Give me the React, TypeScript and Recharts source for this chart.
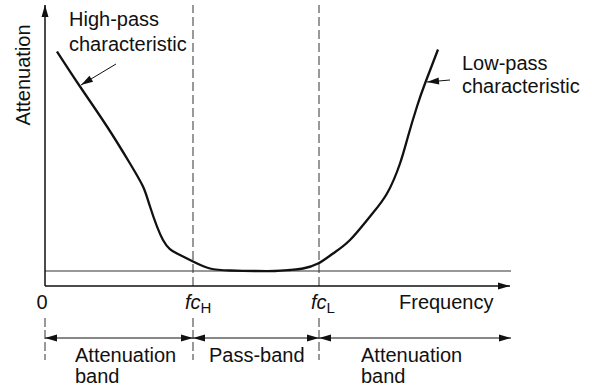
import React from 'react'
import {
  ComposedChart,
  Line,
  XAxis,
  YAxis,
  ReferenceLine,
  ReferenceDot,
} from 'recharts'

// curve (frequency, attenuation in arbitrary units)
const freq = [1.2, 3.5, 6.2, 8.5, 9.8, 10.5, 11.8, 13.2, 14.8, 16.5, 18.5, 21.0, 23.0, 24.5, 25.8, 27.3, 28.8, 30.5, 32.5, 34.2, 35.5, 36.3, 37.2, 38.0, 39.3]
const attenuation = [43.9, 36.9, 28.9, 21.5, 16.9, 12.9, 6.2, 3.5, 1.9, 0.5, 0.1, 0.0, 0.0, 0.2, 0.5, 1.5, 3.5, 6.2, 10.9, 15.5, 21.5, 26.9, 32.9, 37.5, 44.3]

const cutoffs = [14.8, 27.4] // fcH, fcL
const tickValues = [0, 14.8, 27.4]
const tickLabels = ['0', 'fc|H', 'fc|L']
const bandEdges = [0, 14.8, 27.4, 46.6]

const data = freq.map((f, i) => ({ f, a: attenuation[i] }))

const ink = '#111'
const font = '"Liberation Sans", Arial, Helvetica, sans-serif'

// line with filled arrow heads on either end
const arrow = (start: boolean, end: boolean, width = 1.3, len = 12, half = 3.5) => (p: any) => {
  const { x1, y1, x2, y2 } = p
  const dx = x2 - x1
  const dy = y2 - y1
  const d = Math.hypot(dx, dy) || 1
  const ux = dx / d
  const uy = dy / d
  const head = (tx: number, ty: number, sx: number, sy: number) => {
    const bx = tx - sx * len
    const by = ty - sy * len
    return `${tx},${ty} ${bx - sy * half},${by + sx * half} ${bx + sy * half},${by - sx * half}`
  }
  return (
    <g>
      <line x1={x1} y1={y1} x2={x2} y2={y2} stroke={ink} strokeWidth={width} />
      {end && <polygon points={head(x2, y2, ux, uy)} fill={ink} />}
      {start && <polygon points={head(x1, y1, -ux, -uy)} fill={ink} />}
    </g>
  )
}

const note = (lines: string[], gap = 22, anchor: 'start' | 'middle' = 'start', rotate = false) => (p: any) => (
  <text
    x={p.cx}
    y={p.cy}
    fontFamily={font}
    fontSize={20}
    fill={ink}
    textAnchor={anchor}
    transform={rotate ? `rotate(-90, ${p.cx}, ${p.cy})` : undefined}
  >
    {lines.map((l, i) => (
      <tspan key={i} x={p.cx} dy={i ? gap : 0}>{l}</tspan>
    ))}
  </text>
)

const FreqTick = (props: any) => {
  const { x, y, payload } = props
  const label = tickLabels[tickValues.indexOf(payload.value)] || ''
  const [main, sub] = label.split('|')
  const base = y + 15
  if (!sub) {
    return (
      <text x={x - 3} y={base} textAnchor="middle" fontFamily={font} fontSize={20} fill={ink}>{main}</text>
    )
  }
  return (
    <text x={x - 8} y={base} textAnchor="start" fontFamily={font} fontSize={20} fill={ink}>
      <tspan fontStyle="italic">{main}</tspan>
      <tspan fontSize={15} dy={4}>{sub}</tspan>
    </text>
  )
}

export default function App() {
  return (
    <div style={{ position: 'absolute', left: 0, top: 0, background: '#fff' }}>
      <ComposedChart width={592} height={392} data={data} margin={{ top: 5, right: 82, bottom: 76, left: 45 }}>
        <XAxis
          type="number"
          dataKey="f"
          domain={[0, 46.5]}
          allowDataOverflow
          ticks={tickValues}
          interval={0}
          tickLine={false}
          axisLine={false}
          height={30}
          tick={<FreqTick />}
        />
        <YAxis type="number" domain={[-3, 53.2]} allowDataOverflow hide />

        {/* attenuation-zero baseline */}
        <ReferenceLine segment={[{ x: 0, y: 0 }, { x: 46.6, y: 0 }]} stroke="#333" strokeWidth={1.2} ifOverflow="visible" />

        {cutoffs.map((c) => (
          <ReferenceLine key={c} segment={[{ x: c, y: -3 }, { x: c, y: 53.2 }]} stroke="#333" strokeWidth={1} strokeDasharray="9 4" ifOverflow="visible" />
        ))}

        {/* axes with arrows */}
        <ReferenceLine segment={[{ x: 0, y: -3 }, { x: 0, y: 53.2 }]} ifOverflow="visible" shape={arrow(false, true, 1.5)} />
        <ReferenceLine segment={[{ x: 0, y: -3 }, { x: 46.5, y: -3 }]} ifOverflow="visible" shape={arrow(false, true, 1.5)} />

        <Line type="natural" dataKey="a" stroke={ink} strokeWidth={2.3} dot={false} isAnimationActive={false} />

        {/* curve annotations */}
        <ReferenceDot x={2.4} y={49} r={0} ifOverflow="visible" shape={note(['High-pass', 'characteristic'], 25)} />
        <ReferenceLine segment={[{ x: 7.1, y: 41.4 }, { x: 3.6, y: 37.2 }]} ifOverflow="visible" shape={arrow(false, true, 1)} />
        <ReferenceDot x={41.7} y={40.2} r={0} ifOverflow="visible" shape={note(['Low-pass', 'characteristic'], 23)} />
        <ReferenceLine segment={[{ x: 40.5, y: 38.2 }, { x: 38.2, y: 37.8 }]} ifOverflow="visible" shape={arrow(false, true, 1)} />
        <ReferenceDot x={-1.5} y={39.2} r={0} ifOverflow="visible" shape={note(['Attenuation'], 0, 'middle', true)} />
        <ReferenceDot x={35.4} y={-7.6} r={0} ifOverflow="visible" shape={note(['Frequency'])} />

        {/* band markers below the axis */}
        {bandEdges.slice(0, 3).map((e) => (
          <ReferenceLine key={`t${e}`} segment={[{ x: e, y: -9.4 }, { x: e, y: -17.8 }]} stroke="#333" strokeWidth={1} strokeDasharray="9 3" ifOverflow="visible" />
        ))}
        {bandEdges.slice(0, 3).map((e, i) => (
          <ReferenceLine key={`b${e}`} segment={[{ x: e, y: -13.4 }, { x: bandEdges[i + 1], y: -13.4 }]} ifOverflow="visible" shape={arrow(true, true, 1)} />
        ))}
        <ReferenceDot x={3.0} y={-18.2} r={0} ifOverflow="visible" shape={note(['Attenuation', 'band'], 21)} />
        <ReferenceDot x={16.4} y={-18.2} r={0} ifOverflow="visible" shape={note(['Pass-band'])} />
        <ReferenceDot x={31.6} y={-18.2} r={0} ifOverflow="visible" shape={note(['Attenuation', 'band'], 21)} />
      </ComposedChart>
    </div>
  )
}
